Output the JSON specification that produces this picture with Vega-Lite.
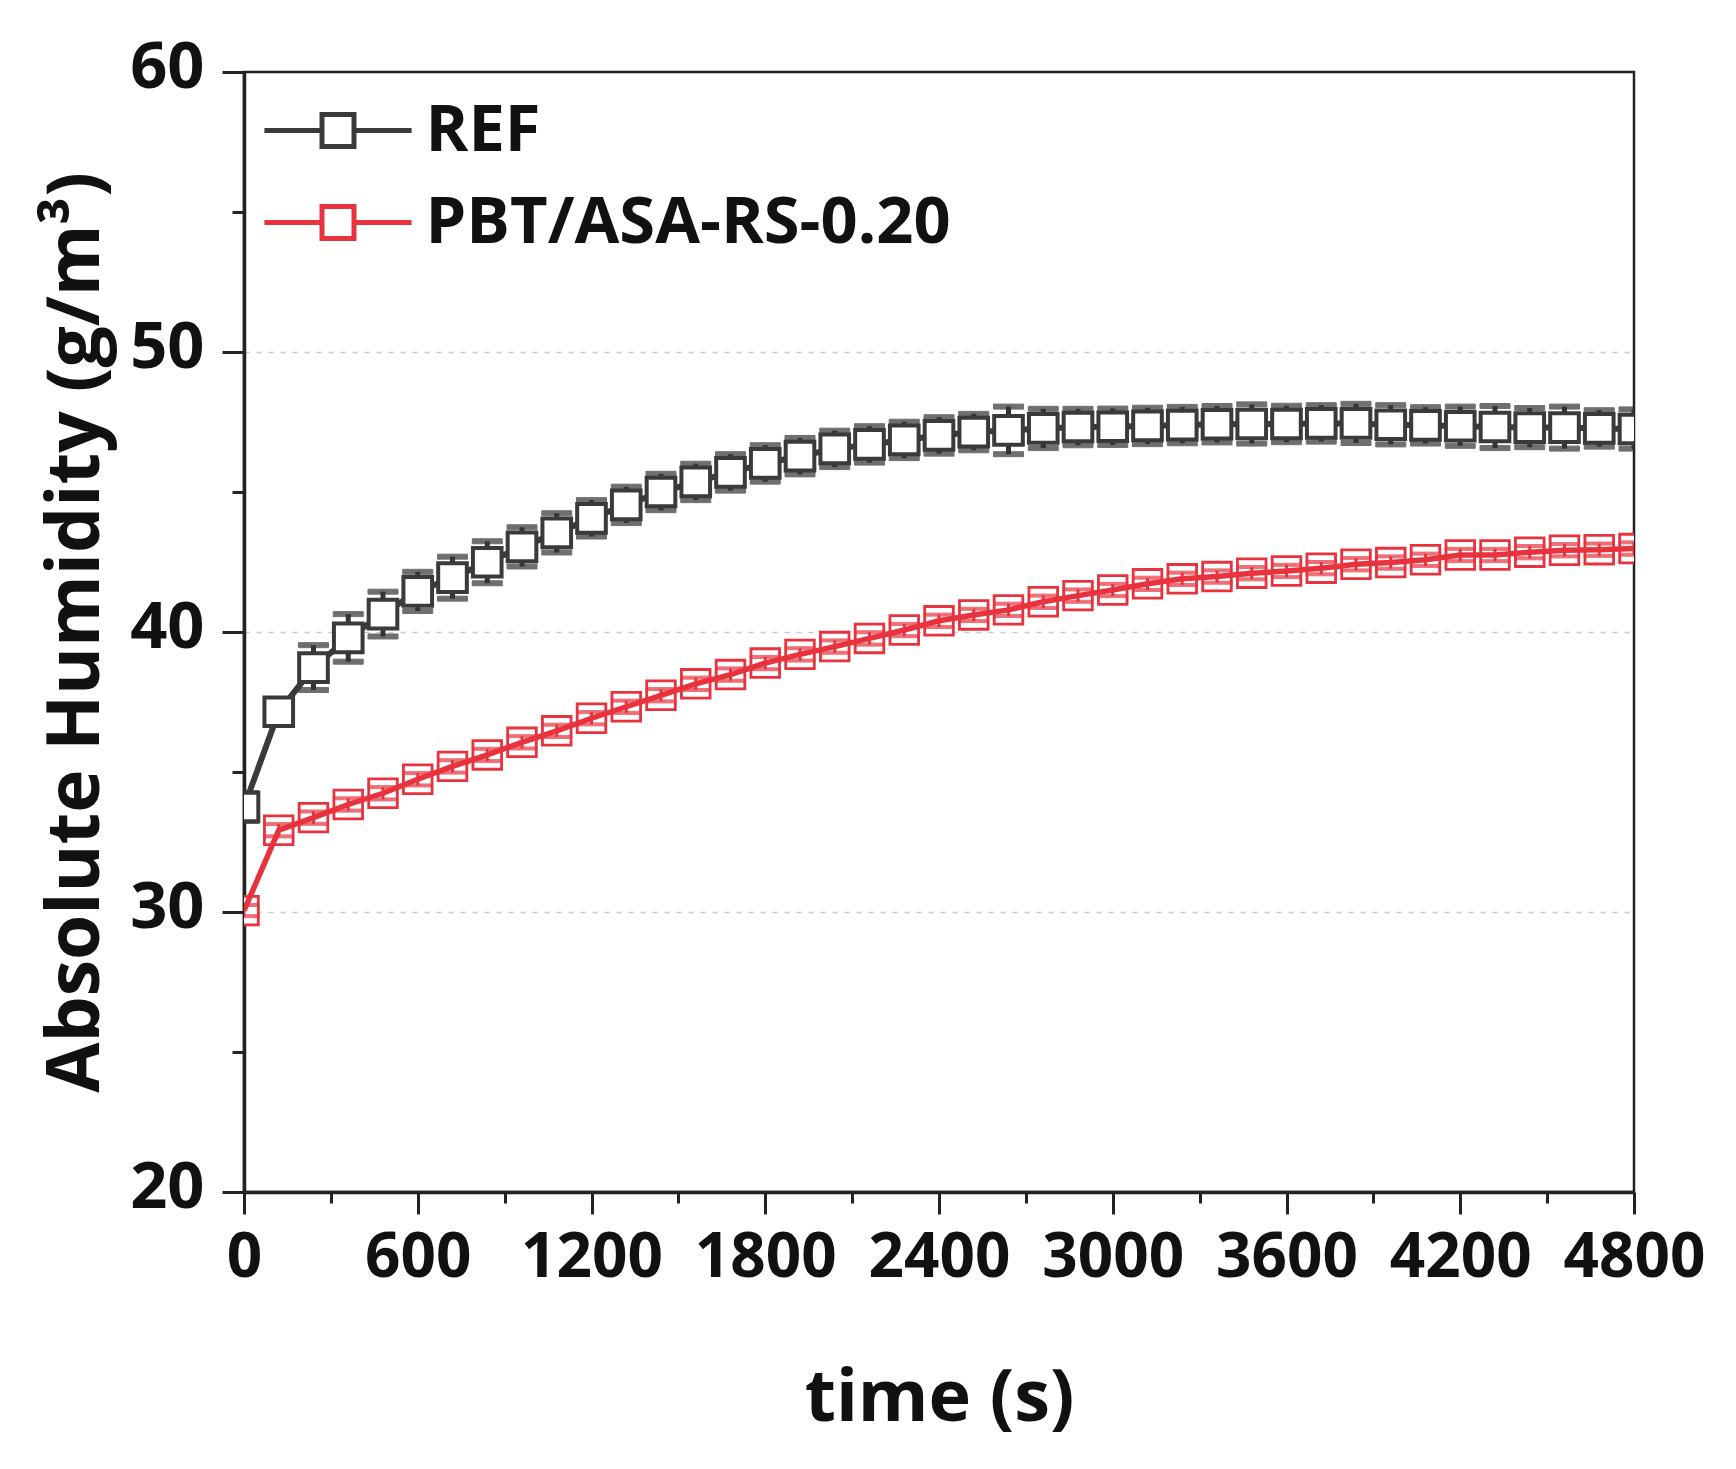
{
  "$schema": "https://vega.github.io/schema/vega-lite/v6.json",
  "autosize": {"type": "none"},
  "width": 1390,
  "height": 1120,
  "padding": {"left": 244, "top": 72, "right": 102, "bottom": 277},
  "background": "white",
  "config": {
    "view": {"stroke": "#222222", "strokeWidth": 2.5},
    "font": "Open Sans"
  },
  "data": {
    "values": [
      {"series": "REF", "t": 0, "y": 33.75, "err": 0.5},
      {"series": "REF", "t": 120, "y": 37.15, "err": 0.35},
      {"series": "REF", "t": 240, "y": 38.73, "err": 0.8},
      {"series": "REF", "t": 360, "y": 39.79, "err": 0.85},
      {"series": "REF", "t": 480, "y": 40.64, "err": 0.8},
      {"series": "REF", "t": 600, "y": 41.45, "err": 0.7},
      {"series": "REF", "t": 720, "y": 41.94, "err": 0.75},
      {"series": "REF", "t": 840, "y": 42.49, "err": 0.75},
      {"series": "REF", "t": 960, "y": 43.04, "err": 0.7},
      {"series": "REF", "t": 1080, "y": 43.54, "err": 0.7},
      {"series": "REF", "t": 1200, "y": 44.06, "err": 0.65},
      {"series": "REF", "t": 1320, "y": 44.54, "err": 0.65},
      {"series": "REF", "t": 1440, "y": 45.0, "err": 0.65},
      {"series": "REF", "t": 1560, "y": 45.36, "err": 0.65},
      {"series": "REF", "t": 1680, "y": 45.7, "err": 0.65},
      {"series": "REF", "t": 1800, "y": 46.02, "err": 0.65},
      {"series": "REF", "t": 1920, "y": 46.28, "err": 0.65},
      {"series": "REF", "t": 2040, "y": 46.54, "err": 0.65},
      {"series": "REF", "t": 2160, "y": 46.7, "err": 0.65},
      {"series": "REF", "t": 2280, "y": 46.86, "err": 0.65},
      {"series": "REF", "t": 2400, "y": 47.02, "err": 0.65},
      {"series": "REF", "t": 2520, "y": 47.14, "err": 0.65},
      {"series": "REF", "t": 2640, "y": 47.2, "err": 0.85},
      {"series": "REF", "t": 2760, "y": 47.27, "err": 0.7},
      {"series": "REF", "t": 2880, "y": 47.32, "err": 0.65},
      {"series": "REF", "t": 3000, "y": 47.33, "err": 0.65},
      {"series": "REF", "t": 3120, "y": 47.36, "err": 0.65},
      {"series": "REF", "t": 3240, "y": 47.39, "err": 0.65},
      {"series": "REF", "t": 3360, "y": 47.42, "err": 0.65},
      {"series": "REF", "t": 3480, "y": 47.43, "err": 0.7},
      {"series": "REF", "t": 3600, "y": 47.43, "err": 0.65},
      {"series": "REF", "t": 3720, "y": 47.45, "err": 0.65},
      {"series": "REF", "t": 3840, "y": 47.45, "err": 0.7},
      {"series": "REF", "t": 3960, "y": 47.4, "err": 0.7},
      {"series": "REF", "t": 4080, "y": 47.38, "err": 0.65},
      {"series": "REF", "t": 4200, "y": 47.35, "err": 0.7},
      {"series": "REF", "t": 4320, "y": 47.32, "err": 0.75},
      {"series": "REF", "t": 4440, "y": 47.3, "err": 0.7},
      {"series": "REF", "t": 4560, "y": 47.3, "err": 0.75},
      {"series": "REF", "t": 4680, "y": 47.27, "err": 0.65},
      {"series": "REF", "t": 4800, "y": 47.25, "err": 0.7},
      {"series": "PBT/ASA-RS-0.20", "t": 0, "y": 30.05, "err": 0.2},
      {"series": "PBT/ASA-RS-0.20", "t": 120, "y": 32.92, "err": 0.22},
      {"series": "PBT/ASA-RS-0.20", "t": 240, "y": 33.37, "err": 0.22},
      {"series": "PBT/ASA-RS-0.20", "t": 360, "y": 33.84, "err": 0.22},
      {"series": "PBT/ASA-RS-0.20", "t": 480, "y": 34.24, "err": 0.22},
      {"series": "PBT/ASA-RS-0.20", "t": 600, "y": 34.74, "err": 0.22},
      {"series": "PBT/ASA-RS-0.20", "t": 720, "y": 35.2, "err": 0.22},
      {"series": "PBT/ASA-RS-0.20", "t": 840, "y": 35.61, "err": 0.22},
      {"series": "PBT/ASA-RS-0.20", "t": 960, "y": 36.06, "err": 0.22},
      {"series": "PBT/ASA-RS-0.20", "t": 1080, "y": 36.47, "err": 0.22},
      {"series": "PBT/ASA-RS-0.20", "t": 1200, "y": 36.92, "err": 0.22},
      {"series": "PBT/ASA-RS-0.20", "t": 1320, "y": 37.33, "err": 0.22},
      {"series": "PBT/ASA-RS-0.20", "t": 1440, "y": 37.74, "err": 0.22},
      {"series": "PBT/ASA-RS-0.20", "t": 1560, "y": 38.15, "err": 0.22},
      {"series": "PBT/ASA-RS-0.20", "t": 1680, "y": 38.48, "err": 0.22},
      {"series": "PBT/ASA-RS-0.20", "t": 1800, "y": 38.89, "err": 0.22},
      {"series": "PBT/ASA-RS-0.20", "t": 1920, "y": 39.2, "err": 0.22},
      {"series": "PBT/ASA-RS-0.20", "t": 2040, "y": 39.48, "err": 0.22},
      {"series": "PBT/ASA-RS-0.20", "t": 2160, "y": 39.77, "err": 0.22},
      {"series": "PBT/ASA-RS-0.20", "t": 2280, "y": 40.07, "err": 0.22},
      {"series": "PBT/ASA-RS-0.20", "t": 2400, "y": 40.4, "err": 0.22},
      {"series": "PBT/ASA-RS-0.20", "t": 2520, "y": 40.61, "err": 0.22},
      {"series": "PBT/ASA-RS-0.20", "t": 2640, "y": 40.79, "err": 0.22},
      {"series": "PBT/ASA-RS-0.20", "t": 2760, "y": 41.08, "err": 0.22},
      {"series": "PBT/ASA-RS-0.20", "t": 2880, "y": 41.3, "err": 0.22},
      {"series": "PBT/ASA-RS-0.20", "t": 3000, "y": 41.5, "err": 0.22},
      {"series": "PBT/ASA-RS-0.20", "t": 3120, "y": 41.72, "err": 0.22},
      {"series": "PBT/ASA-RS-0.20", "t": 3240, "y": 41.9, "err": 0.22},
      {"series": "PBT/ASA-RS-0.20", "t": 3360, "y": 41.98, "err": 0.22},
      {"series": "PBT/ASA-RS-0.20", "t": 3480, "y": 42.1, "err": 0.22},
      {"series": "PBT/ASA-RS-0.20", "t": 3600, "y": 42.18, "err": 0.22},
      {"series": "PBT/ASA-RS-0.20", "t": 3720, "y": 42.28, "err": 0.22},
      {"series": "PBT/ASA-RS-0.20", "t": 3840, "y": 42.42, "err": 0.22},
      {"series": "PBT/ASA-RS-0.20", "t": 3960, "y": 42.48, "err": 0.22},
      {"series": "PBT/ASA-RS-0.20", "t": 4080, "y": 42.58, "err": 0.22},
      {"series": "PBT/ASA-RS-0.20", "t": 4200, "y": 42.75, "err": 0.22},
      {"series": "PBT/ASA-RS-0.20", "t": 4320, "y": 42.75, "err": 0.22},
      {"series": "PBT/ASA-RS-0.20", "t": 4440, "y": 42.85, "err": 0.22},
      {"series": "PBT/ASA-RS-0.20", "t": 4560, "y": 42.92, "err": 0.22},
      {"series": "PBT/ASA-RS-0.20", "t": 4680, "y": 42.94, "err": 0.22},
      {"series": "PBT/ASA-RS-0.20", "t": 4800, "y": 42.98, "err": 0.22}
    ]
  },
  "encoding": {
    "x": {
      "field": "t",
      "type": "quantitative",
      "scale": {"domain": [0, 4800], "nice": false, "zero": false},
      "axis": {
        "title": "time (s)",
        "values": [0, 300, 600, 900, 1200, 1500, 1800, 2100, 2400, 2700, 3000, 3300, 3600, 3900, 4200, 4500, 4800],
        "labelExpr": "datum.value % 600 === 0 ? datum.label : ''",
        "format": "d",
        "labelFlush": false,
        "labelOverlap": false,
        "labelFont": "Open Sans",
        "labelFontSize": 62,
        "labelFontWeight": "bold",
        "labelColor": "#111111",
        "labelPadding": 13,
        "tickSize": {"condition": {"test": "datum.value % 600 === 0", "value": 22}, "value": 11},
        "tickWidth": 3,
        "tickColor": "#222222",
        "domainColor": "#222222",
        "domainWidth": 3.5,
        "grid": false,
        "titleFont": "Open Sans",
        "titleFontSize": 72,
        "titleFontWeight": "bold",
        "titleColor": "#111111",
        "titleBaseline": "alphabetic",
        "titleY": 228,
        "titleX": 695
      }
    },
    "y": {
      "field": "y",
      "type": "quantitative",
      "scale": {"domain": [20, 60], "nice": false, "zero": false},
      "axis": {
        "title": "Absolute Humidity (g/m³)",
        "values": [20, 25, 30, 35, 40, 45, 50, 55, 60],
        "labelExpr": "datum.value % 10 === 0 ? datum.label : ''",
        "labelOverlap": false,
        "labelFlush": false,
        "labelFont": "Open Sans",
        "labelFontSize": 65,
        "labelFontWeight": "bold",
        "labelColor": "#111111",
        "labelPadding": 18,
        "labelOffset": -5,
        "tickSize": {"condition": {"test": "datum.value % 10 === 0", "value": 22}, "value": 12},
        "tickWidth": 3,
        "tickColor": "#222222",
        "domainColor": "#222222",
        "domainWidth": 3.5,
        "grid": true,
        "gridColor": "#cacaca",
        "gridWidth": 1.6,
        "gridDash": [5, 7],
        "gridOpacity": {"condition": {"test": "datum.value === 30 || datum.value === 40 || datum.value === 50", "value": 1}, "value": 0},
        "titleFont": "Open Sans",
        "titleFontSize": 73,
        "titleFontWeight": "bold",
        "titleColor": "#111111",
        "titleBaseline": "alphabetic",
        "titleAngle": -90,
        "titleX": -146,
        "titleY": 560
      }
    },
    "stroke": {
      "field": "series",
      "type": "nominal",
      "scale": {"domain": ["REF", "PBT/ASA-RS-0.20"], "range": ["#3a3a3a", "#e8333f"]},
      "legend": {
        "title": null,
        "orient": "none",
        "legendX": 61.5,
        "legendY": 26,
        "padding": 0,
        "labelFont": "Open Sans",
        "labelFontSize": 65,
        "labelFontWeight": "bold",
        "labelColor": "#111111",
        "labelLimit": 0,
        "labelOffset": 55,
        "symbolType": "M-4.6,0H-1M1,0H4.6M-1,-1H1V1H-1Z",
        "symbolSize": 1024,
        "symbolStrokeWidth": 5,
        "symbolFillColor": "white",
        "symbolOpacity": 1,
        "rowPadding": 26
      }
    }
  },
  "layer": [
    {
      "transform": [{"filter": "datum.series === 'REF'"}],
      "mark": {"type": "errorbar", "ticks": true, "size": 30, "thickness": 5, "color": "#333333", "clip": true},
      "encoding": {
        "yError": {"field": "err"},
        "stroke": {"value": "#333333"}
      }
    },
    {
      "transform": [{"filter": "datum.series === 'REF'"}],
      "mark": {"type": "line", "strokeWidth": 6, "clip": true}
    },
    {
      "transform": [{"filter": "datum.series === 'REF'"}],
      "mark": {"type": "point", "shape": "square", "size": 820, "filled": false, "fill": "white", "fillOpacity": 1, "opacity": 1, "strokeWidth": 4, "clip": true}
    },
    {
      "transform": [{"filter": "datum.series !== 'REF'"}],
      "mark": {"type": "point", "shape": "square", "size": 820, "filled": false, "fill": "white", "fillOpacity": 1, "opacity": 1, "strokeWidth": 2.8, "clip": true}
    },
    {
      "transform": [{"filter": "datum.series !== 'REF'"}],
      "mark": {"type": "line", "strokeWidth": 5.5, "clip": true}
    },
    {
      "transform": [{"filter": "datum.series !== 'REF'"}],
      "mark": {"type": "errorbar", "ticks": true, "size": 30, "thickness": 3, "color": "#e8333f", "clip": true},
      "encoding": {
        "yError": {"field": "err"},
        "stroke": {"value": "#e8333f"}
      }
    }
  ]
}
